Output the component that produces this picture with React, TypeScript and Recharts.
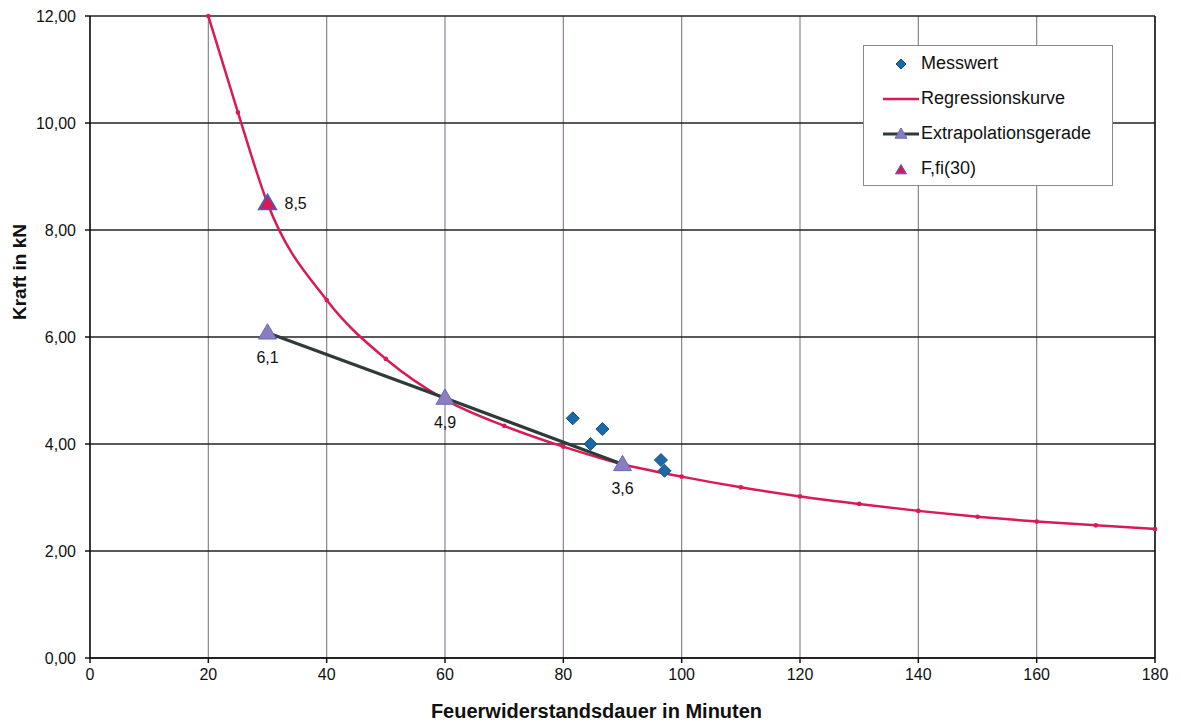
import {
  ComposedChart,
  Line,
  Scatter,
  XAxis,
  YAxis,
  CartesianGrid,
  ReferenceLine,
  Legend,
} from "recharts";

// Regressionskurve
const curveMinutes = [20, 25, 30, 40, 50, 60, 70, 80, 90, 100, 110, 120, 130, 140, 150, 160, 170, 180];
const curveForce = [12.0, 10.2, 8.5, 6.69, 5.59, 4.83, 4.34, 3.95, 3.62, 3.39, 3.19, 3.02, 2.88, 2.75, 2.64, 2.55, 2.48, 2.41];

// Messwerte
const measuredMinutes = [81.6, 84.6, 86.6, 96.5, 97.1];
const measuredForce = [4.48, 4.0, 4.28, 3.7, 3.5];

// Extrapolationsgerade
const lineMinutes = [30, 60, 90];
const lineForce = [6.08, 4.86, 3.62];

// F,fi(30)
const ffiMinutes = [30];
const ffiForce = [8.5];

const xTicks = [0, 20, 40, 60, 80, 100, 120, 140, 160, 180];
const yTicks = [0, 2, 4, 6, 8, 10, 12];

const FONT = "'Liberation Sans', Arial, sans-serif";
const RED = "#d91a55";
const DARK = "#2e3b36";
const LILAC = "#8e7cc3";
const BLUE = "#1a6aa8";

const regression = curveMinutes.map((t, i) => ({ t, f: curveForce[i] }));
const measured = measuredMinutes.map((t, i) => ({ t, f: measuredForce[i] }));
const extrapolation = lineMinutes.map((t, i) => ({ t, f: lineForce[i] }));
const ffi = ffiMinutes.map((t, i) => ({ t, f: ffiForce[i] }));

const fmt = (v: number, d: number) => v.toFixed(d).replace(".", ",");

const tri = (cx: number, cy: number, s = 9) =>
  `M${cx},${cy - s} L${cx + s},${cy + s * 0.7} L${cx - s},${cy + s * 0.7} Z`;

function LegendBox() {
  const rows = [
    {
      name: "Messwert",
      icon: <path d="M19,4 L24,9 L19,14 L14,9 Z" fill={BLUE} stroke="#0f4f86" />,
    },
    {
      name: "Regressionskurve",
      icon: <line x1={1} y1={9} x2={37} y2={9} stroke={RED} strokeWidth={2.5} />,
    },
    {
      name: "Extrapolationsgerade",
      icon: (
        <g>
          <line x1={1} y1={9} x2={37} y2={9} stroke={DARK} strokeWidth={3} />
          <path d={tri(19, 9, 6)} fill={LILAC} stroke="#5a6fc0" />
        </g>
      ),
    },
    {
      name: "F,fi(30)",
      icon: <path d={tri(19, 10, 5.5)} fill={RED} stroke="#3a66c8" />,
    },
  ];
  return (
    <div
      style={{
        width: 250,
        height: 141,
        boxSizing: "border-box",
        border: "1.5px solid #8a8a8a",
        background: "#fff",
        fontFamily: FONT,
        fontSize: 18,
        color: "#111",
      }}
    >
      {rows.map((r) => (
        <div key={r.name} style={{ height: 35, display: "flex", alignItems: "center" }}>
          <svg width={38} height={18} style={{ marginLeft: 18, marginRight: 1 }}>
            {r.icon}
          </svg>
          <span>{r.name}</span>
        </div>
      ))}
    </div>
  );
}

export default function App() {
  return (
    <div style={{ position: "absolute", left: 0, top: 0, background: "#fff" }}>
      <ComposedChart
        width={1181}
        height={723}
        margin={{ top: 16, right: 26, left: 0, bottom: 0 }}
        style={{ fontFamily: FONT }}
      >
        <CartesianGrid horizontal={false} stroke="#8c8290" strokeWidth={1.2} />
        <CartesianGrid vertical={false} stroke="#222" strokeWidth={1.5} />
        <XAxis
          type="number"
          dataKey="t"
          domain={[0, 180]}
          ticks={xTicks}
          height={65}
          tickSize={5}
          stroke="#111"
          strokeWidth={1.5}
          tick={{ fill: "#111", fontSize: 16, dy: 4 }}
          label={{
            value: "Feuerwiderstandsdauer in Minuten",
            content: (p: any) => (
              <text
                x={p.viewBox.x + p.viewBox.width / 2 - 26}
                y={p.viewBox.y + 60}
                textAnchor="middle"
                fontWeight="bold"
                fontSize={20}
                fill="#111"
              >
                Feuerwiderstandsdauer in Minuten
              </text>
            ),
          }}
        />
        <YAxis
          type="number"
          dataKey="f"
          domain={[0, 12]}
          ticks={yTicks}
          width={90}
          tickSize={5}
          stroke="#111"
          strokeWidth={1.5}
          tickFormatter={(v: number) => fmt(v, 2)}
          tick={{ fill: "#111", fontSize: 16, dx: -7 }}
          label={{
            value: "Kraft in kN",
            content: (p: any) => (
              <text
                x={p.viewBox.x + 26}
                y={p.viewBox.y + p.viewBox.height / 2 - 65}
                transform={`rotate(-90, ${p.viewBox.x + 26}, ${p.viewBox.y + p.viewBox.height / 2 - 65})`}
                textAnchor="middle"
                fontWeight="bold"
                fontSize={19}
                fill="#111"
              >
                Kraft in kN
              </text>
            ),
          }}
        />
        <ReferenceLine x={180} stroke="#111" strokeWidth={1.5} />
        <Line
          data={regression}
          dataKey="f"
          type="monotone"
          name="Regressionskurve"
          stroke={RED}
          strokeWidth={2.5}
          dot={{ r: 1.1, fill: RED, stroke: RED }}
          isAnimationActive={false}
        />
        <Line
          data={extrapolation}
          dataKey="f"
          type="linear"
          name="Extrapolationsgerade"
          stroke={DARK}
          strokeWidth={3.2}
          isAnimationActive={false}
          dot={(p: any) => (
            <g key={`ex-${p.index}`}>
              <path d={tri(p.cx, p.cy)} fill={LILAC} stroke="#5a6fc0" strokeWidth={1} />
              <text
                x={p.cx}
                y={p.cy + 30}
                textAnchor="middle"
                fontSize={16}
                fill="#111"
              >
                {fmt(p.payload.f, 1)}
              </text>
            </g>
          )}
        />
        <Scatter
          data={ffi}
          dataKey="f"
          name="F,fi(30)"
          isAnimationActive={false}
          shape={(p: any) => (
            <g>
              <path d={tri(p.cx, p.cy)} fill={RED} stroke="#3a66c8" strokeWidth={1.5} />
              <text x={p.cx + 17} y={p.cy + 6} fontSize={16} fill="#111">
                {fmt(p.payload.f, 1)}
              </text>
            </g>
          )}
        />
        <Scatter
          data={measured}
          dataKey="f"
          name="Messwert"
          isAnimationActive={false}
          shape={(p: any) => (
            <path
              d={`M${p.cx},${p.cy - 6.5} L${p.cx + 6.5},${p.cy} L${p.cx},${p.cy + 6.5} L${p.cx - 6.5},${p.cy} Z`}
              fill={BLUE}
              stroke="#0f4f86"
            />
          )}
        />
        <Legend
          layout="vertical"
          verticalAlign="middle"
          align="center"
          content={() => <LegendBox />}
          wrapperStyle={{ position: "absolute", left: 863, top: 45, width: 250, height: 141 }}
        />
      </ComposedChart>
    </div>
  );
}
